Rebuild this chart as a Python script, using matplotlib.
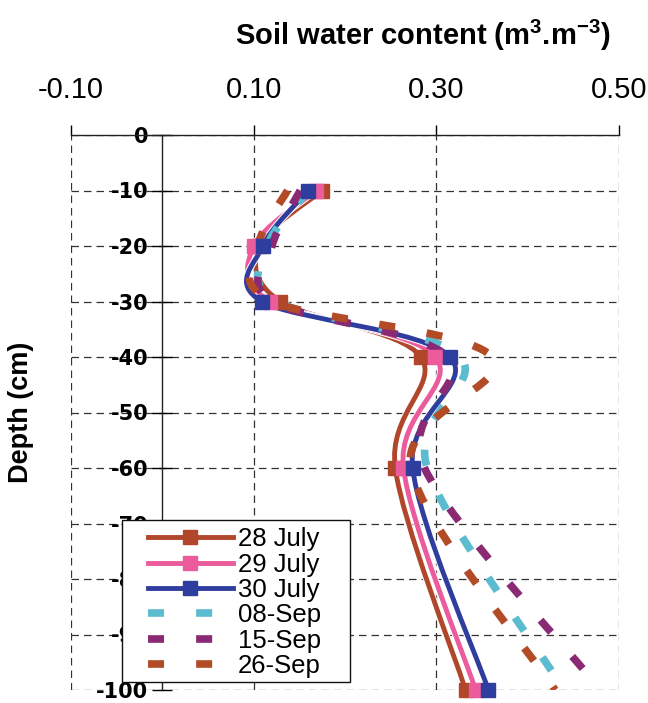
import numpy as np
import matplotlib
matplotlib.use("Agg")
import matplotlib.pyplot as plt
from matplotlib.path import Path
from matplotlib.patches import PathPatch, Rectangle
from matplotlib.lines import Line2D
import matplotlib.patheffects as pe

plt.rcParams['font.family'] = ['Liberation Sans', 'DejaVu Sans']
plt.rcParams['mathtext.fontset'] = 'custom'
plt.rcParams['mathtext.rm'] = 'Liberation Sans'
plt.rcParams['mathtext.bf'] = 'Liberation Sans:bold'

# ---- data ----
depth = [-10, -20, -30, -40, -60, -100]
jul28 = [0.175, 0.106, 0.129, 0.283, 0.255, 0.332]
jul29 = [0.168, 0.100, 0.118, 0.299, 0.264, 0.343]
jul30 = [0.160, 0.110, 0.109, 0.315, 0.274, 0.357]
sep08 = [0.160, 0.115, 0.125, 0.326, 0.290, 0.440]
sep15 = [0.151, 0.120, 0.120, 0.312, 0.287, 0.480]
sep26 = [0.137, 0.105, 0.120, 0.361, 0.272, 0.430]

july_labels = ['28 July', '29 July', '30 July']
sep_labels = ['08-Sep', '15-Sep', '26-Sep']
july_colors = ['#B0462A', '#EC5B9C', '#2F3E9E']
sep_colors = ['#5BBCD0', '#8B2A74', '#B24B26']

xticks = [-0.10, 0.10, 0.30, 0.50]
yticks = list(range(0, -101, -10))


def smooth_path(xs, ys):
    pts = np.column_stack([xs, ys]).astype(float)
    n = len(pts)
    verts = [pts[0]]
    codes = [Path.MOVETO]
    for i in range(n - 1):
        p0 = pts[i - 1] if i > 0 else pts[i]
        p1 = pts[i]
        p2 = pts[i + 1]
        p3 = pts[i + 2] if i + 2 < n else pts[i + 1]
        c1 = p1 + (p2 - p0) / 6.0
        c2 = p2 - (p3 - p1) / 6.0
        verts += [c1, c2, p2]
        codes += [Path.CURVE4] * 3
    return Path(verts, codes)


fig = plt.figure(figsize=(6.48, 7.03), dpi=100)
ax = fig.add_axes([71 / 648, 1 - 690 / 703, 548 / 648, 555 / 703])
ax.set_xlim(-0.10, 0.50)
ax.set_ylim(-100, 0)

# spines
ax.spines['left'].set_position(('data', 0))
ax.spines['right'].set_visible(False)
ax.spines['bottom'].set_visible(False)
for s in ('left', 'top'):
    ax.spines[s].set_linewidth(1.0)
    ax.spines[s].set_color('#222222')

ax.xaxis.tick_top()
ax.set_xticks(xticks)
ax.set_xticklabels(['%.2f' % v for v in xticks])
ax.tick_params(axis='x', direction='out', length=7, width=1, pad=15,
               labelsize=21)
ax.set_yticks(yticks)
ax.set_yticklabels([str(v) for v in yticks])
ax.tick_params(axis='y', direction='inout', length=14, width=1, pad=3)
for t in ax.get_yticklabels():
    t.set_fontfamily('DejaVu Sans')
    t.set_fontsize(15)
    t.set_fontweight('bold')

ax.grid(True, color='#333333', linestyle=(0, (6, 4)), linewidth=0.9)
ax.set_axisbelow(True)

ax.xaxis.set_label_position('top')
ax.set_xlabel('Soil water content (m$^{\\mathbf{3}}$.m$^{\\mathbf{-3}}$)',
              fontsize=21, fontweight='bold')
ax.xaxis.set_label_coords(0.642, 1.162)
ax.set_ylabel('Depth (cm)', fontsize=19.5, fontweight='bold')
ax.yaxis.set_label_coords(-0.068, 0.5)

# July curves
for vals, c in zip([jul28, jul29, jul30], july_colors):
    p = PathPatch(smooth_path(vals, depth), fill=False, edgecolor=c,
                  linewidth=3.5, zorder=3, capstyle='round',
                  path_effects=[pe.Stroke(linewidth=5, foreground='white'),
                                pe.Normal()])
    ax.add_patch(p)

# September dashed curves
for vals, c in zip([sep08, sep15, sep26], sep_colors):
    p = PathPatch(smooth_path(vals, depth), fill=False, edgecolor=c,
                  linewidth=5.5, linestyle=(0, (2.1, 4.2)), zorder=4,
                  capstyle='butt')
    ax.add_patch(p)

# July markers
for vals, c in zip([jul28, jul29, jul30], july_colors):
    ax.plot(vals, depth, linestyle='none', marker='s', markersize=10,
            color=c, zorder=5, clip_on=False)

# legend box
ax.add_patch(Rectangle((0.0931, 0.0144), 0.416, 0.292, transform=ax.transAxes,
                       facecolor='white', edgecolor='#111111', linewidth=1.0,
                       zorder=6, clip_on=False))
handles = []
for lab, c in zip(july_labels, july_colors):
    handles.append(Line2D([], [], color=c, linewidth=3.5, marker='s',
                          markersize=10, label=lab))
for lab, c in zip(sep_labels, sep_colors):
    handles.append(Line2D([], [], color=c, linewidth=5.5,
                          linestyle=(0, (2.1, 4.2)), dash_capstyle='butt',
                          label=lab))
leg = ax.legend(handles=handles, loc='upper left',
                bbox_to_anchor=(0.1405, 0.293), frameon=False, fontsize=18.5,
                handlelength=3.3, handletextpad=0.2, labelspacing=0.05,
                borderpad=0, borderaxespad=0, numpoints=1)
leg.set_zorder(7)

fig.savefig('out.png', dpi=100)
